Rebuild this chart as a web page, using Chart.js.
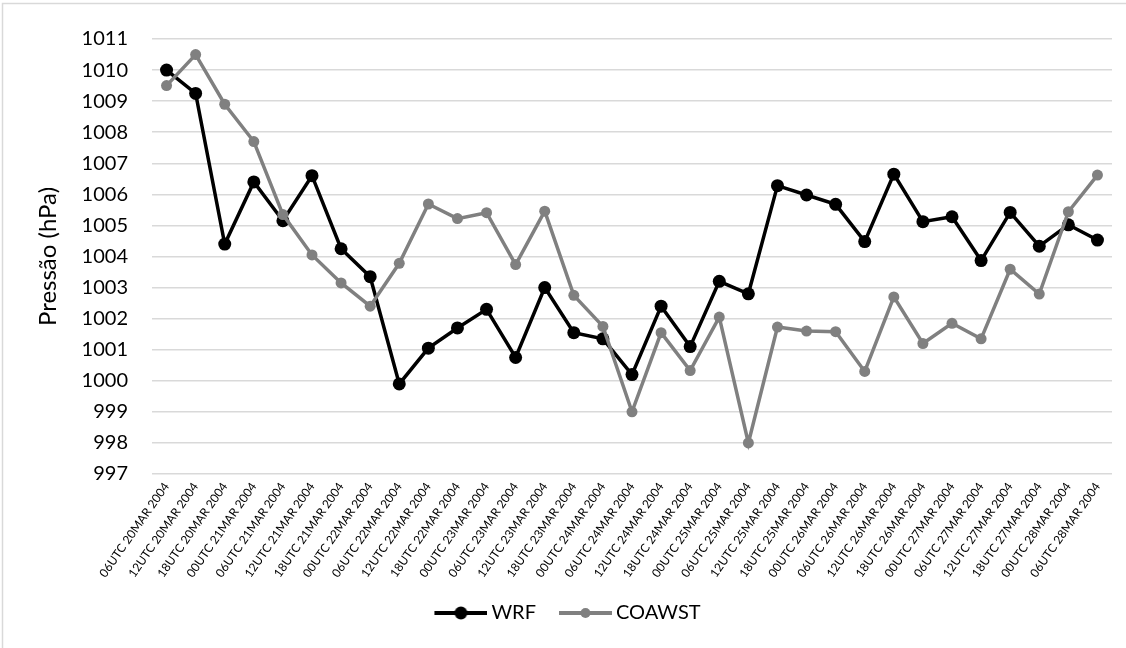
<!DOCTYPE html>
<html>
<head>
<meta charset="utf-8">
<script src="https://cdn.jsdelivr.net/npm/chart.js@4.4.1/dist/chart.umd.min.js"></script>
<style>
    html, body { margin: 0; padding: 0; background: #ffffff; }
    #wrap { position: relative; width: 1126px; height: 648px; }
</style>
</head>
<body>
<div id="wrap"><canvas id="pressureChart" width="1126" height="648"></canvas></div>
<script>
// -------------------------------- DATA --------------------------------//
const timeLabels = [
    '06UTC 20MAR 2004', '12UTC 20MAR 2004', '18UTC 20MAR 2004',
    '00UTC 21MAR 2004', '06UTC 21MAR 2004', '12UTC 21MAR 2004', '18UTC 21MAR 2004',
    '00UTC 22MAR 2004', '06UTC 22MAR 2004', '12UTC 22MAR 2004', '18UTC 22MAR 2004',
    '00UTC 23MAR 2004', '06UTC 23MAR 2004', '12UTC 23MAR 2004', '18UTC 23MAR 2004',
    '00UTC 24MAR 2004', '06UTC 24MAR 2004', '12UTC 24MAR 2004', '18UTC 24MAR 2004',
    '00UTC 25MAR 2004', '06UTC 25MAR 2004', '12UTC 25MAR 2004', '18UTC 25MAR 2004',
    '00UTC 26MAR 2004', '06UTC 26MAR 2004', '12UTC 26MAR 2004', '18UTC 26MAR 2004',
    '00UTC 27MAR 2004', '06UTC 27MAR 2004', '12UTC 27MAR 2004', '18UTC 27MAR 2004',
    '00UTC 28MAR 2004', '06UTC 28MAR 2004'
];

const wrfValues = [
    1010.0, 1009.25, 1004.4, 1006.4, 1005.15, 1006.6, 1004.25, 1003.35,
    999.9, 1001.05, 1001.7, 1002.3, 1000.75, 1003.0, 1001.55, 1001.35,
    1000.2, 1002.4, 1001.1, 1003.2, 1002.8, 1006.28, 1005.98, 1005.68,
    1004.48, 1006.65, 1005.12, 1005.28, 1003.87, 1005.42, 1004.33, 1005.02, 1004.53
];

const coawstValues = [
    1009.5, 1010.5, 1008.9, 1007.7, 1005.35, 1004.05, 1003.15, 1002.4,
    1003.78, 1005.69, 1005.22, 1005.41, 1003.74, 1005.46, 1002.75, 1001.75,
    999.0, 1001.55, 1000.33, 1002.05, 998.0, 1001.73, 1001.6, 1001.58,
    1000.3, 1002.7, 1001.2, 1001.85, 1001.35, 1003.59, 1002.79, 1005.44, 1006.62
];

const yMin = 997;
const yMax = 1011;

const WRF_COLOR = '#000000';
const COAWST_COLOR = '#808080';
const GRID_COLOR = '#d9d9d9';
const FONT = 'Lato, "Open Sans", sans-serif';

// small line + dot sample for the legend (excel style)
function legendSample(color, radius) {
    const c = document.createElement('canvas');
    c.width = 72;
    c.height = 16;
    const g = c.getContext('2d');
    g.strokeStyle = color;
    g.lineWidth = 4;
    g.beginPath();
    g.moveTo(19, 8);
    g.lineTo(72, 8);
    g.stroke();
    g.fillStyle = color;
    g.beginPath();
    g.arc(45.5, 8, radius, 0, Math.PI * 2);
    g.fill();
    return c;
}
const legendImages = [legendSample(WRF_COLOR, 6.5), legendSample(COAWST_COLOR, 5)];

// outer frame like the exported excel picture
const framePlugin = {
    id: 'frame',
    beforeDraw(chart) {
        const ctx = chart.ctx;
        ctx.save();
        ctx.strokeStyle = '#d9d9d9';
        ctx.lineWidth = 1.5;
        ctx.strokeRect(2.5, 3.5, 1300, 800);
        ctx.restore();
    }
};

// -------------------------------- LINE CHART --------------------------------//
const ctx = document.getElementById('pressureChart').getContext('2d');

new Chart(ctx, {
    type: 'line',
    data: {
        labels: timeLabels,
        datasets: [
            {
                label: 'WRF',
                data: wrfValues,
                borderColor: WRF_COLOR,
                backgroundColor: WRF_COLOR,
                pointBackgroundColor: WRF_COLOR,
                pointBorderWidth: 0,
                pointRadius: 6.5,
                borderWidth: 3.5,
                tension: 0,
                order: 1
            },
            {
                label: 'COAWST',
                data: coawstValues,
                borderColor: COAWST_COLOR,
                backgroundColor: COAWST_COLOR,
                pointBackgroundColor: COAWST_COLOR,
                pointBorderWidth: 0,
                pointRadius: 5.5,
                borderWidth: 3.5,
                tension: 0,
                order: 0 // drawn on top, like in the original
            }
        ]
    },
    options: {
        responsive: false,
        animation: false,
        layout: {
            padding: { left: 10, right: 14, top: 39, bottom: 15 }
        },
        plugins: {
            legend: {
                position: 'bottom',
                labels: {
                    usePointStyle: true,
                    pointStyleWidth: 60,
                    padding: 10,
                    color: '#000000',
                    font: { family: FONT, size: 20 },
                    sort: (a, b) => a.datasetIndex - b.datasetIndex,
                    generateLabels: function(chart) {
                        const items = Chart.defaults.plugins.legend.labels.generateLabels(chart);
                        items.forEach(item => { item.pointStyle = legendImages[item.datasetIndex]; });
                        return items;
                    }
                }
            },
            tooltip: { enabled: false }
        },
        scales: {
            x: {
                offset: true,
                grid: { display: false, drawTicks: false },
                border: { display: false },
                ticks: {
                    autoSkip: false,
                    minRotation: 55,
                    maxRotation: 55,
                    padding: 6,
                    color: '#000000',
                    font: { family: FONT, size: 12 }
                },
                afterFit: function(scale) {
                    scale.height = 119;
                }
            },
            y: {
                min: yMin,
                max: yMax,
                grid: { color: GRID_COLOR, lineWidth: 1.5, drawTicks: false },
                border: { display: false },
                ticks: {
                    stepSize: 1,
                    padding: 24,
                    color: '#000000',
                    font: { family: FONT, size: 20 },
                    callback: value => String(value) // no thousands separator
                },
                title: {
                    display: true,
                    text: 'Pressão (hPa)',
                    color: '#000000',
                    font: { family: FONT, size: 24 },
                    padding: { top: 24, bottom: 4 }
                },
                afterFit: function(scale) {
                    scale.width = 142;
                }
            }
        }
    },
    plugins: [framePlugin]
});
</script>
</body>
</html>
